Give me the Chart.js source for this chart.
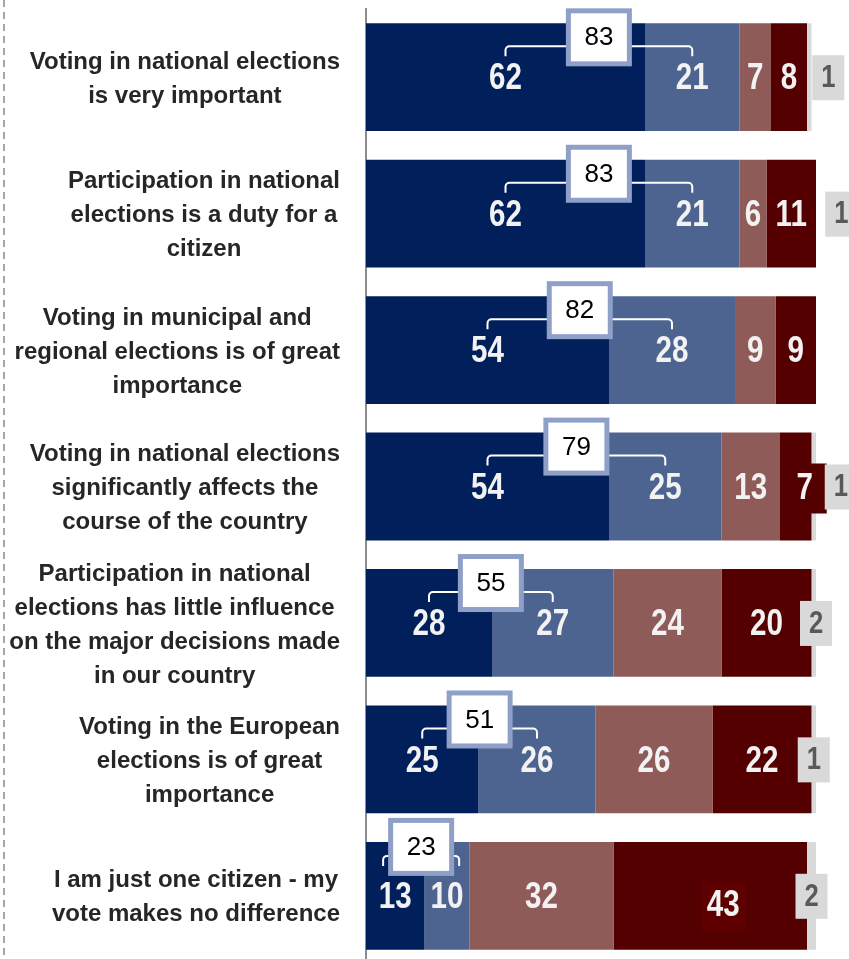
<!DOCTYPE html>
<html>
<head>
<meta charset="utf-8">
<script src="https://cdn.jsdelivr.net/npm/chart.js@4.4.1/dist/chart.umd.min.js"></script>
<style>
  html, body { margin: 0; padding: 0; background: #fff; overflow: hidden; }
  #wrap { width: 849px; height: 959px; overflow: hidden; }
</style>
</head>
<body>
<div id="wrap"><canvas id="chart" width="849" height="966"></canvas></div>
<script>
// categories (one array of lines per row)
var categories = [
    ['Voting in national elections', 'is very important'],
    ['Participation in national', 'elections is a duty for a', 'citizen'],
    ['Voting in municipal and', 'regional elections is of great', 'importance'],
    ['Voting in national elections', 'significantly affects the', 'course of the country'],
    ['Participation in national', 'elections has little influence', 'on the major decisions made', 'in our country'],
    ['Voting in the European', 'elections is of great', 'importance'],
    ['I am just one citizen - my', 'vote makes no difference']
];

var totallyAgree     = [62, 62, 54, 54, 28, 25, 13];
var ratherAgree      = [21, 21, 28, 25, 27, 26, 10];
var ratherDisagree   = [7, 6, 9, 13, 24, 26, 32];
var totallyDisagree  = [8, 11, 9, 7, 20, 22, 43];
var dontKnow         = [1, 1, 0, 1, 2, 1, 2];

// label nudges (px), only for placement
var greyShift = [19, 23, 0, 27, 0, 0, 0];
var maroonShift = [[0, 0], [0, 0], [0, 0], [9, 0], [0, 0], [0, 0], [13, 8]];
var totalBoxShift = [0, 0, 0, 0, 0, 0, -9];

var colors = ['#011f5b', '#4e6490', '#8e5b59', '#540000', '#d9d9d9'];

function narrowText(ctx, txt, x, y, size, color) {
    ctx.save();
    ctx.translate(x, y);
    ctx.scale(0.8, 1);
    ctx.font = 'bold ' + size + 'px "Liberation Sans", Arial, sans-serif';
    ctx.fillStyle = color;
    ctx.textAlign = 'center';
    ctx.textBaseline = 'middle';
    ctx.fillText(txt, 0, 0);
    ctx.restore();
}

var overlay = {
    id: 'overlay',
    afterDatasetsDraw: function (chart) {
        var ctx = chart.ctx;
        var yScale = chart.scales.y;

        // dashed frame line on the left
        ctx.save();
        ctx.strokeStyle = '#a6a6a6';
        ctx.lineWidth = 2;
        ctx.setLineDash([7, 5]);
        ctx.beginPath();
        ctx.moveTo(4, 0);
        ctx.lineTo(4, 966);
        ctx.stroke();
        ctx.restore();

        // category labels: right-aligned block, centred lines
        ctx.save();
        ctx.font = 'bold 24px "Liberation Sans", Arial, sans-serif';
        ctx.fillStyle = '#262626';
        ctx.textBaseline = 'middle';
        ctx.textAlign = 'center';
        for (var i = 0; i < categories.length; i++) {
            var lines = categories[i];
            var maxW = 0;
            lines.forEach(function (l) { maxW = Math.max(maxW, ctx.measureText(l).width); });
            var cx = 340 - maxW / 2;
            var cy = yScale.getPixelForValue(i) + 2;
            var lh = 34;
            var top = cy - (lines.length - 1) * lh / 2;
            lines.forEach(function (l, k) { ctx.fillText(l, cx, top + k * lh); });
        }
        ctx.restore();

        var metas = [0, 1, 2, 3, 4].map(function (d) { return chart.getDatasetMeta(d); });

        for (var r = 0; r < categories.length; r++) {
            var b0 = metas[0].data[r].getProps(['x', 'base', 'y', 'height'], true);
            var b1 = metas[1].data[r].getProps(['x', 'base', 'y', 'height'], true);
            var barTop = b0.y - b0.height / 2;
            var c0 = (b0.x + b0.base) / 2;
            var c1 = (b1.x + b1.base) / 2;
            var mid = (c0 + c1) / 2;

            // bracket joining the two agree values
            var left = Math.min(c0, mid - 38);
            var right = Math.max(c1, mid + 38);
            var yb = barTop + 23 + totalBoxShift[r];
            var rad = 4;
            ctx.save();
            ctx.strokeStyle = '#ffffff';
            ctx.lineWidth = 2;
            ctx.beginPath();
            ctx.moveTo(left, yb + 10);
            ctx.arcTo(left, yb, left + rad, yb, rad);
            ctx.lineTo(right - rad, yb);
            ctx.arcTo(right, yb, right, yb + rad, rad);
            ctx.lineTo(right, yb + 10);
            ctx.stroke();
            ctx.restore();

            // total box
            var total = totallyAgree[r] + ratherAgree[r];
            var by = barTop + 14 + totalBoxShift[r];
            ctx.save();
            ctx.fillStyle = '#8fa0c8';
            ctx.fillRect(mid - 33, by - 29, 66, 58);
            ctx.fillStyle = '#ffffff';
            ctx.fillRect(mid - 28, by - 24, 56, 48);
            ctx.font = '26px "Liberation Sans", Arial, sans-serif';
            ctx.fillStyle = '#000000';
            ctx.textAlign = 'center';
            ctx.textBaseline = 'middle';
            ctx.fillText(String(total), mid, by + 1);
            ctx.restore();

            // segment values
            for (var d = 0; d < 4; d++) {
                var v = chart.data.datasets[d].data[r];
                if (!v) continue;
                var bar = metas[d].data[r].getProps(['x', 'base', 'y', 'height'], true);
                var sx = (bar.x + bar.base) / 2;
                var sy = bar.y + 2;
                if (d === 3 && (maroonShift[r][0] || maroonShift[r][1])) {
                    sx += maroonShift[r][0];
                    sy += maroonShift[r][1];
                    ctx.fillStyle = r === 6 ? '#5e0000' : colors[3];
                    ctx.fillRect(sx - 22, sy - 25, 44, 50);
                }
                narrowText(ctx, String(v), sx, sy, 37, '#f2f2f2');
            }

            // don't know value in grey box
            var g = dontKnow[r];
            if (g) {
                var gb = metas[4].data[r].getProps(['x', 'base', 'y', 'height'], true);
                var gx = (gb.x + gb.base) / 2 + greyShift[r];
                ctx.fillStyle = '#d9d9d9';
                ctx.fillRect(gx - 16, gb.y - 22, 32, 45);
                narrowText(ctx, String(g), gx, gb.y + 1, 32, '#595959');
            }
        }
    }
};

new Chart(document.getElementById('chart'), {
    type: 'bar',
    data: {
        labels: categories.map(function (c) { return c.join(' '); }),
        datasets: [
            { label: 'Totally agree', data: totallyAgree, backgroundColor: colors[0] },
            { label: 'Rather agree', data: ratherAgree, backgroundColor: colors[1] },
            { label: 'Rather disagree', data: ratherDisagree, backgroundColor: colors[2] },
            { label: 'Totally disagree', data: totallyDisagree, backgroundColor: colors[3] },
            { label: "Don't know", data: dontKnow, backgroundColor: colors[4] }
        ]
    },
    options: {
        indexAxis: 'y',
        responsive: false,
        animation: false,
        devicePixelRatio: 1,
        layout: { padding: { left: 366, right: 33, top: 9, bottom: 2 } },
        datasets: { bar: { categoryPercentage: 1, barPercentage: 0.79, borderWidth: 0 } },
        plugins: { legend: { display: false }, tooltip: { enabled: false } },
        scales: {
            x: { stacked: true, min: 0, max: 100, display: false },
            y: {
                stacked: true,
                ticks: { display: false },
                grid: { display: false, drawTicks: false },
                border: { display: true, color: '#8c8c8c', width: 2 }
            }
        }
    },
    plugins: [overlay]
});
</script>
</body>
</html>
